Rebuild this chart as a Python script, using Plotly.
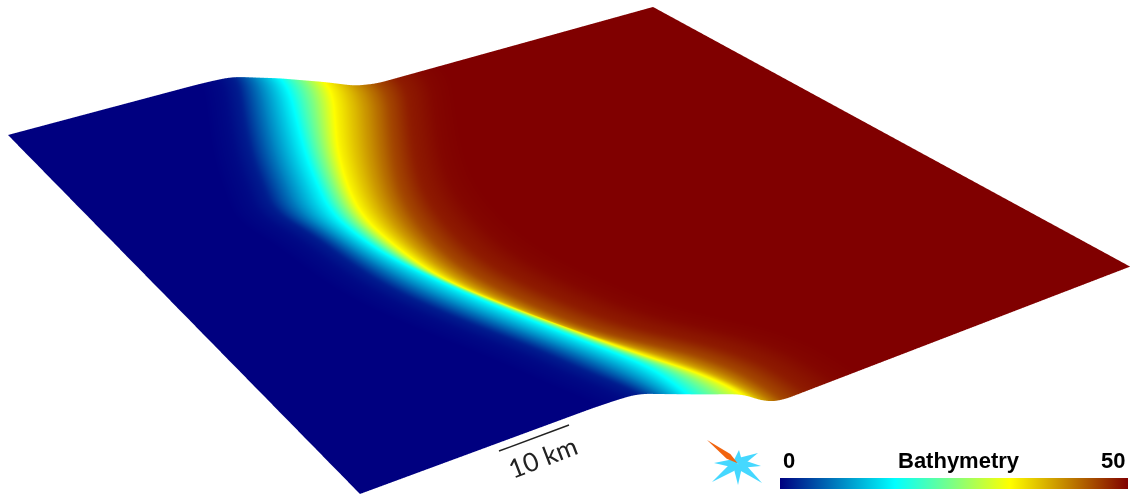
import numpy as np
import plotly.graph_objects as go

# Bathymetry: across-shelf position (0-1) of each depth contour at 21 stations along the coast
stations = np.linspace(0, 1, 21)
levels = [2, 16.5, 33, 45]
contour_2 = [0.321,0.304,0.285,0.266,0.248,0.231,0.217,0.203,0.190,0.197,0.203,0.205,0.209,0.216,0.228,0.243,0.259,0.277,0.291,0.305,0.323]
contour_16 = [0.389,0.378,0.360,0.342,0.324,0.307,0.292,0.278,0.265,0.262,0.264,0.269,0.280,0.291,0.305,0.320,0.336,0.352,0.369,0.382,0.378]
contour_33 = [0.457,0.443,0.420,0.397,0.374,0.355,0.337,0.322,0.311,0.308,0.308,0.310,0.316,0.330,0.346,0.364,0.381,0.399,0.420,0.442,0.451]
contour_45 = [0.539,0.527,0.503,0.479,0.455,0.432,0.411,0.394,0.382,0.374,0.369,0.369,0.375,0.385,0.398,0.413,0.437,0.469,0.491,0.501,0.500]
tab = np.array([contour_2, contour_16, contour_33, contour_45])

# Tails of the profile beyond the outer contours: offset across the shelf, depth
low_offsets = [-.055, -.022]
low_depths = [0, .7]
high_offsets = [.03, .07, .11]
high_depths = [48, 49.5, 50]

# Vertical relief seen at the edges, per colour depth
relief_depth = [0, 16.5, 33, 40, 45, 50]
relief_drop = [0, 16.5, 33, 46, 50, 50]

colorbar_title = "Bathymetry"
colorbar_ticks = ["0", "50"]
scale_label = "10 km"

# Oblique placement of the sheet in the scene
Ax, Ay = -.9331, .1883
Ux, Uy, Uz = 1.1024, .3620, -.1558
Vx, Vy, Vz = .6782, -.4940, .2589
DROP = .085 / 50

def smooth(a, n, axis):
    w = np.ones(n) / n
    p = [(0, 0)] * a.ndim
    p[axis] = (n // 2, n // 2)
    b = np.pad(a, p, mode="edge")
    return np.apply_along_axis(lambda r: np.convolve(r, w, mode="valid"), axis, b)

uu = np.linspace(0, 1, 340)
vv = np.linspace(0, 1, 260)
lines = np.array([np.interp(vv, stations, t) for t in tab])
lines = smooth(lines, 21, 1)
depth = np.zeros((vv.size, uu.size))
for j in range(vv.size):
    k = list(lines[:, j])
    xp = [k[0] + o for o in low_offsets] + k + [k[-1] + o for o in high_offsets]
    depth[j] = np.interp(uu, xp, low_depths + levels + high_depths)
depth = smooth(smooth(depth, 3, 1), 3, 0)
drop = smooth(np.interp(depth, relief_depth, relief_drop), 9, 1)

UU, VV = np.meshgrid(uu, vv)
Dz = 1 - Uz * UU - Vz * VV
X = Ax + Ux * UU + Vx * VV
Y = Ay + Uy * UU + Vy * VV - DROP * drop
Z = .95 - Dz

CS = [[0, "#000080"], [.33, "#00ffff"], [.5, "#80ff80"], [.66, "#ffff00"], [1, "#800000"]]
fig = go.Figure(go.Surface(x=X, y=Y, z=Z, surfacecolor=depth, colorscale=CS, cmin=0, cmax=50,
    lighting=dict(ambient=1, diffuse=0, specular=0, roughness=1, fresnel=0), hoverinfo="skip",
    colorbar=dict(orientation="h", x=954 / 1131, xanchor="center", y=6 / 495, yanchor="bottom",
                  len=348, lenmode="pixels", thickness=11, showticklabels=False, outlinewidth=0, xpad=0, ypad=0)))
ax = dict(visible=False, range=[-1, 1])

W, H = 1131, 495
def px(x, y):
    return f"{x / W:.5f},{1 - y / H:.5f}"
def path(pts):
    return "M" + " L".join(px(x, y) for x, y in pts) + " Z"
cx, cy = 737.7, 463.3
arms = [(739, 450), (758, 453), (761, 466), (762, 483), (738, 485), (712, 482), (714, 463)]
def arm(tip, col, w=3.2, at=.25):
    dx, dy = tip[0] - cx, tip[1] - cy
    L = (dx * dx + dy * dy) ** .5
    nx, ny = -dy / L * w, dx / L * w
    m = (cx + dx * at, cy + dy * at)
    return dict(type="path", xref="paper", yref="paper", path=path([(cx, cy), (m[0] + nx, m[1] + ny), tip, (m[0] - nx, m[1] - ny)]),
                fillcolor=col, line=dict(width=0), layer="above")
shapes = [arm(t, "#45d8ff", 4, .22) for t in arms]
shapes.append(arm((707, 440), "#f2640f", 3, .3))
shapes.append(dict(type="line", xref="paper", yref="paper", x0=499 / W, y0=1 - 451 / H, x1=569 / W, y1=1 - 425 / H,
                   line=dict(color="#222222", width=1.4), layer="above"))

bold = dict(family="Liberation Sans", size=22, color="black")
def label(x, y, t, **k):
    return dict(x=x / W, y=1 - y / H, xref="paper", yref="paper", text=t, showarrow=False,
                xanchor="center", yanchor="middle", **k)
annos = [label(789, 460, f"<b>{colorbar_ticks[0]}</b>", font=bold),
         label(959, 460, f"<b>{colorbar_title}</b>", font=bold),
         label(1113, 460, f"<b>{colorbar_ticks[1]}</b>", font=bold),
         label(542, 457, scale_label, textangle=-21, font=dict(family="Lato", size=26, color="#222222"))]

fig.update_layout(width=W, height=H, margin=dict(l=0, r=0, t=0, b=0), paper_bgcolor="white", shapes=shapes, annotations=annos,
    scene=dict(xaxis=ax, yaxis=ax, zaxis=ax, aspectmode="manual", aspectratio=dict(x=1, y=1, z=1),
               camera=dict(eye=dict(x=0, y=0, z=.475), center=dict(x=0, y=0, z=0), up=dict(x=0, y=1, z=0))))
fig.write_html("out.html", config=dict(displayModeBar=False),
               post_script="document.body.style.margin='0';document.body.style.overflow='hidden';")
